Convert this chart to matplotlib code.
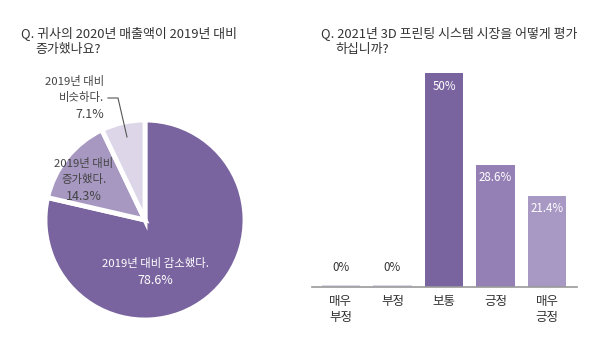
import numpy as np
from matplotlib import pyplot as plt

plt.rcParams['font.family'] = ['Noto Sans CJK KR', 'DejaVu Sans']

# 왼쪽: 2020년 매출액 (파이)
pie_labels = ["2019년 대비 감소했다.", "2019년 대비\n증가했다.", "2019년 대비\n비슷하다."]
pie_values = [78.6, 14.3, 7.1]
pie_colors = ["#7a64a0", "#a798c2", "#dcd6e8"]

# 오른쪽: 3D 프린팅 시장 평가 (막대)
bar_labels = ["매우\n부정", "부정", "보통", "긍정", "매우\n긍정"]
bar_values = [0, 0, 50, 28.6, 21.4]
bar_texts = ["0%", "0%", "50%", "28.6%", "21.4%"]
bar_colors = ["#dcd8ea", "#dcd8ea", "#7a64a0", "#9580b5", "#a898c4"]

W, H = 600, 348
fig = plt.figure(figsize=(W / 100, H / 100), dpi=100)
txt = "#333333"


def px(left, top, w, h):
    return [left / W, (H - top - h) / H, w / W, h / H]


fig.text(21 / W, 1 - 33 / H, "Q. 귀사의 2020년 매출액이 2019년 대비", fontsize=9.3, color=txt, va="center")
fig.text(35 / W, 1 - 50 / H, "증가했나요?", fontsize=9.3, color=txt, va="center")
fig.text(321 / W, 1 - 33 / H, "Q. 2021년 3D 프린팅 시스템 시장을 어떻게 평가", fontsize=9.3, color=txt, va="center")
fig.text(335 / W, 1 - 50 / H, "하십니까?", fontsize=9.3, color=txt, va="center")

# 파이
ax1 = fig.add_axes(px(45, 120, 200, 200))
wedges, _ = ax1.pie(pie_values, colors=pie_colors, startangle=90, counterclock=False,
                    wedgeprops=dict(edgecolor="white", linewidth=3.5))
ax1.set_xlim(-1, 1)
ax1.set_ylim(-1, 1)
ax1.set_aspect("equal")
ax1.axis("off")

lab = "#444444"
ax1.text(0.1, -0.43, pie_labels[0], color="white", fontsize=8.2, ha="center", va="center")
ax1.text(0.1, -0.6, "%.1f%%" % pie_values[0], color="white", fontsize=9, ha="center", va="center")

l1, l2 = pie_labels[1].split("\n")
ax1.text(-0.61, 0.57, l1, color=lab, fontsize=8.2, ha="center", va="center")
ax1.text(-0.61, 0.40, l2, color=lab, fontsize=8.2, ha="center", va="center")
ax1.text(-0.61, 0.23, "%.1f%%" % pie_values[1], color=lab, fontsize=9, ha="center", va="center")

l1, l2 = pie_labels[2].split("\n")
ax1.text(-0.41, 1.38, l1, color=lab, fontsize=8.2, ha="right", va="center")
ax1.text(-0.41, 1.23, l2, color=lab, fontsize=8.2, ha="right", va="center")
ax1.text(-0.41, 1.06, "%.1f%%" % pie_values[2], color=lab, fontsize=9, ha="right", va="center")
ax1.plot([-0.37, -0.27, -0.18], [1.22, 1.22, 0.83], color="#555555", lw=0.8, clip_on=False)

# 막대
ax2 = fig.add_axes(px(312, 52, 265, 235))
x = np.arange(len(bar_values))
heights = np.maximum(bar_values, 0.5)
ax2.bar(x, heights, width=0.74, color=bar_colors)
ax2.set_xlim(-0.56, 4.58)
ax2.set_ylim(0, 55)
for s in ["top", "right", "left"]:
    ax2.spines[s].set_visible(False)
ax2.spines["bottom"].set_color("#999999")
ax2.spines["bottom"].set_linewidth(1.2)
ax2.set_yticks([])
ax2.set_xticks(x)
ax2.set_xticklabels(bar_labels, fontsize=9, color=txt, linespacing=1.25)
ax2.tick_params(axis="x", length=0, pad=6)
for xi, v, t in zip(x, bar_values, bar_texts):
    if v == 0:
        ax2.text(xi, 4.5, t, ha="center", va="center", fontsize=8.3, color=txt)
    else:
        ax2.text(xi, v - 3, t, ha="center", va="center", fontsize=8.3, color="white")

fig.savefig("out.png", dpi=100)
